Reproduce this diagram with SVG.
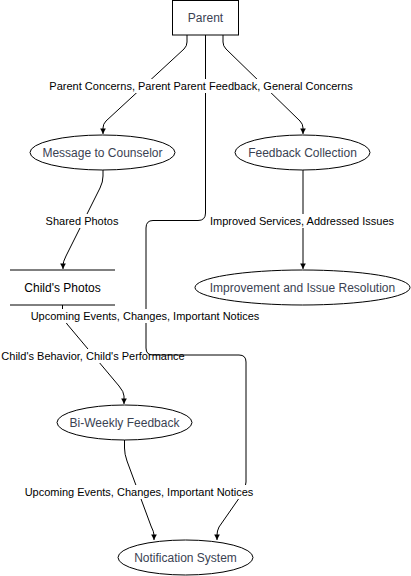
<svg xmlns="http://www.w3.org/2000/svg" width="411" height="576" viewBox="0 0 411 576">
<defs>
<style>
.node{fill:#fff;stroke:#000;stroke-width:1}
.nt{font-family:"Liberation Sans",Arial,sans-serif;font-size:12px;fill:#3a4252;text-anchor:middle;dominant-baseline:central}
.et{font-family:"Liberation Sans",Arial,sans-serif;font-size:11px;fill:#000;text-anchor:middle;dominant-baseline:central}
.edge{fill:none;stroke:#000;stroke-width:1}
.lb{fill:#fff}
</style>
<marker id="arr" viewBox="0 0 10 10" refX="9" refY="5" markerWidth="7" markerHeight="7" markerUnits="userSpaceOnUse" orient="auto">
<path d="M1,1 L9,5 L1,9 Z" fill="#000"/>
</marker>
</defs>
<rect width="411" height="576" fill="#fff"/>
<g id="connectors">
<path class="edge" d="M187,35 L187,42 Q187,46 184,49 L106,121 Q103,124 103,128 L103,134" marker-end="url(#arr)"/>
<path class="edge" d="M223,35 L223,42 Q223,46 226,49 L300,121 Q303,124 303,128 L303,134" marker-end="url(#arr)"/>
<path class="edge" d="M103,170 L103,176 Q103,182 100,188 L66,256 Q63,262 63,265 L63,269" marker-end="url(#arr)"/>
<path class="edge" d="M303,170 L303,269" marker-end="url(#arr)"/>
<path class="edge" d="M62.5,305 L62.5,312 Q62.5,318 67,324 L119,386 Q124,392 124,396 L124,404" marker-end="url(#arr)"/>
<path class="edge" d="M124.5,440 L124.5,448 Q124.5,454 127,461 L151,526 Q154,532 154,535 L154,540" marker-end="url(#arr)"/>
<rect class="lb" x="1" y="349" width="184" height="14"/>
<text class="et" x="93" y="356">Child's Behavior, Child's Performance</text>
<path class="edge" d="M205.5,35 L205.5,213 Q205.5,220.5 198,220.5 L153,220.5 Q146,220.5 146,228 L146,348 Q146,355 153,355 L239,355 Q246,355 246,362 L246,482 Q246,488 242,494 L219,527 Q217,531 217,535 L217,540" marker-end="url(#arr)"/>
<rect class="lb" x="49" y="79" width="304" height="14"/>
<text class="et" x="201" y="86">Parent Concerns, Parent Parent Feedback, General Concerns</text>
<rect class="lb" x="45" y="214" width="74" height="14"/>
<text class="et" x="82" y="221">Shared Photos</text>
<rect class="lb" x="209" y="214" width="186" height="14"/>
<text class="et" x="302" y="221">Improved Services, Addressed Issues</text>
<rect class="lb" x="30" y="309" width="230" height="14"/>
<text class="et" x="145" y="315.5">Upcoming Events, Changes, Important Notices</text>
<rect class="lb" x="24" y="485" width="230" height="14"/>
<text class="et" x="139" y="492">Upcoming Events, Changes, Important Notices</text>
</g>
<g id="parent">
<rect class="node" x="172.5" y="0.5" width="66" height="34.5"/>
<text class="nt" x="205.5" y="17.5">Parent</text>
</g>
<g id="message-to-counselor">
<ellipse class="node" cx="102.5" cy="152.5" rx="72.5" ry="17.5"/>
<text class="nt" x="102.5" y="152.5">Message to Counselor</text>
</g>
<g id="feedback-collection">
<ellipse class="node" cx="302.5" cy="152.5" rx="67.5" ry="17.5"/>
<text class="nt" x="302.5" y="152.5">Feedback Collection</text>
</g>
<g id="childs-photos">
<line class="edge" x1="10" y1="270" x2="115" y2="270"/>
<line class="edge" x1="10" y1="305" x2="115" y2="305"/>
<text class="nt" x="62.5" y="287.5" style="fill:#000">Child's Photos</text>
</g>
<g id="improvement">
<ellipse class="node" cx="302.5" cy="287.5" rx="107.5" ry="17.5"/>
<text class="nt" x="302.5" y="287.5">Improvement and Issue Resolution</text>
</g>
<g id="bi-weekly-feedback">
<ellipse class="node" cx="124.5" cy="422.5" rx="67.5" ry="17.5"/>
<text class="nt" x="124.5" y="422.5">Bi-Weekly Feedback</text>
</g>
<g id="notification-system">
<ellipse class="node" cx="185.5" cy="557.5" rx="67.5" ry="17.5"/>
<text class="nt" x="185.5" y="557.5">Notification System</text>
</g>
</svg>
